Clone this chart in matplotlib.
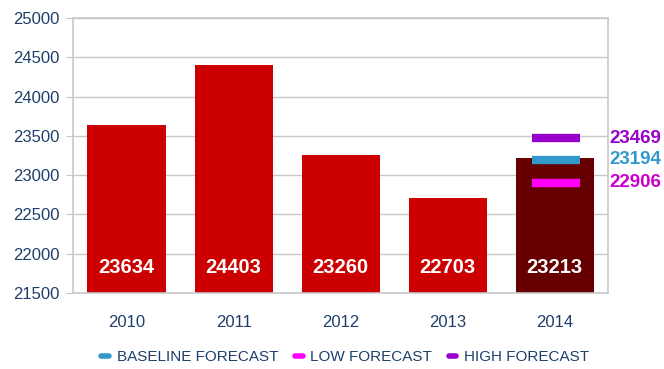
import matplotlib
matplotlib.use("Agg")
import matplotlib.pyplot as plt
from matplotlib.lines import Line2D

plt.rcParams['font.family'] = ['Liberation Sans', 'DejaVu Sans']

years = ['2010', '2011', '2012', '2013', '2014']
values = [23634, 24403, 23260, 22703, 23213]
bar_colors = ['#CC0000', '#CC0000', '#CC0000', '#CC0000', '#660000']

forecast_names = ['BASELINE FORECAST', 'LOW FORECAST', 'HIGH FORECAST']
forecast_values = [23194, 22906, 23469]
forecast_colors = ['#3399CC', '#FF00FF', '#9900CC']
forecast_text_colors = ['#3399CC', '#CC00CC', '#9900CC']

navy = '#1F3F6A'
grid_grey = '#C8C8C8'

fig = plt.figure(figsize=(6.64, 3.69), dpi=100)
ax = fig.add_axes([0.110, 0.206, 0.806, 0.745])

x = list(range(len(years)))
ax.bar(x, [v - 21500 for v in values], bottom=21500, width=0.73,
       color=bar_colors, zorder=2)

for xi, v in zip(x, values):
    ax.text(xi, 21830, str(v), ha='center', va='center', color='white',
            fontsize=14.5, fontweight='bold', zorder=3)

last = x[-1]
for val, c, tc in zip(forecast_values, forecast_colors, forecast_text_colors):
    ax.plot([last - 0.21, last + 0.24], [val, val], color=c, lw=6,
            solid_capstyle='butt', zorder=4)
    ax.text(4.515, val, str(val), ha='left', va='center', color=tc,
            fontsize=13.5, fontweight='bold', clip_on=False)

ax.set_xlim(-0.5, 4.5)
ax.set_ylim(21500, 25000)
ax.set_yticks(range(21500, 25001, 500))
ax.set_xticks(x)
ax.set_xticklabels(years)
ax.yaxis.grid(True, color=grid_grey, lw=1, zorder=0)
ax.set_axisbelow(True)
for s in ax.spines.values():
    s.set_color(grid_grey)
    s.set_linewidth(1.2)
ax.tick_params(axis='both', colors=grid_grey, labelcolor=navy, labelsize=12,
               length=5)
ax.tick_params(axis='x', length=0, pad=16)
ax.tick_params(axis='y', pad=5)

handles = [Line2D([0], [0], color=c, lw=4, solid_capstyle='round')
           for c in forecast_colors]
leg = fig.legend(handles, forecast_names, loc='lower center',
                 bbox_to_anchor=(0.52, -0.025), ncol=3, frameon=False,
                 handlelength=0.5, handletextpad=0.5, columnspacing=1.1,
                 fontsize=11)
for t in leg.get_texts():
    t.set_color(navy)

fig.savefig('out.png', dpi=100)
